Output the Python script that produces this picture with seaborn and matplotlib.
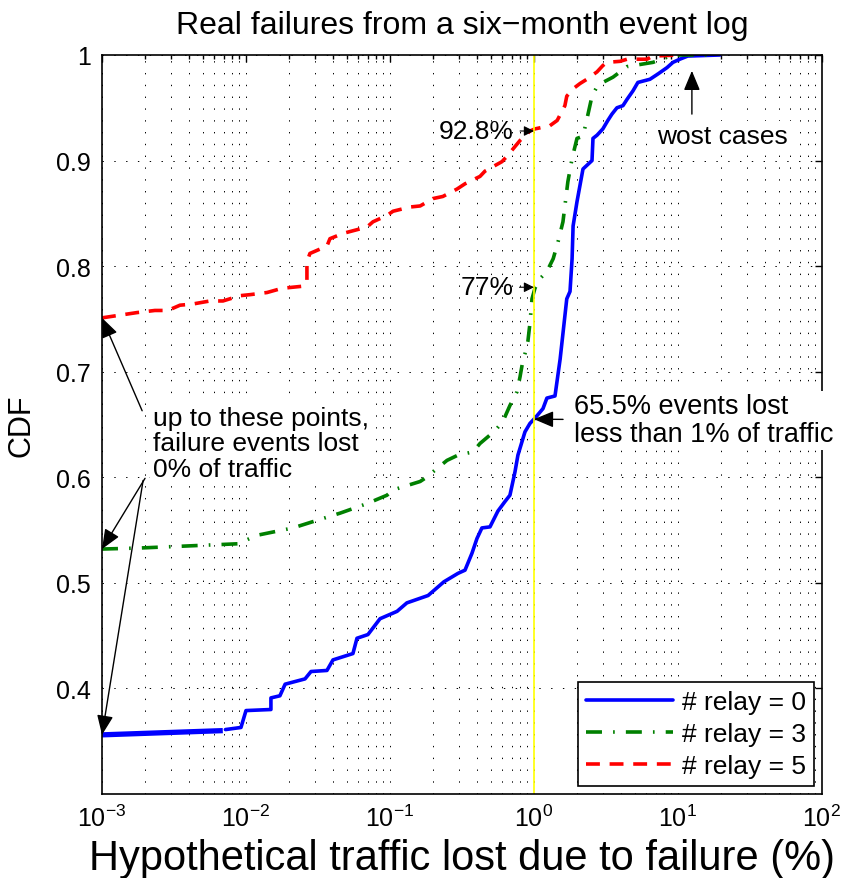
import matplotlib
matplotlib.use("Agg")
import matplotlib.pyplot as plt
import seaborn as sns
from matplotlib.ticker import LogLocator, NullFormatter

# values: traffic lost (%) vs CDF
relay0_zero_x = [0.001, 0.0069]
relay0_zero_cdf = [0.356, 0.360]
relay0_x = [0.0072, 0.00923, 0.01, 0.0149, 0.0149, 0.0172, 0.0187, 0.0257, 0.0283, 0.0365,
            0.0402, 0.0553, 0.059, 0.0703, 0.0853, 0.112, 0.131, 0.184, 0.237, 0.297,
            0.332, 0.371, 0.402, 0.435, 0.495, 0.562, 0.629, 0.681, 0.738, 0.774,
            0.866, 0.938, 1.016, 1.155, 1.23, 1.40, 1.52, 1.69, 1.78, 1.84,
            1.87, 1.99, 2.19, 2.53, 2.57, 2.74, 3.01, 3.26, 3.48, 3.77,
            4.15, 4.43, 4.87, 5.27, 6.39, 7.26, 8.39, 9.23, 10.3, 11.7, 19.6]
relay0_cdf = [0.361, 0.363, 0.379, 0.380, 0.391, 0.393, 0.404, 0.409, 0.416, 0.417,
              0.427, 0.433, 0.4475, 0.451, 0.466, 0.473, 0.481, 0.488, 0.501, 0.509,
              0.512, 0.528, 0.542, 0.552, 0.553, 0.568, 0.577, 0.583, 0.605, 0.621,
              0.643, 0.651, 0.656, 0.665, 0.675, 0.677, 0.712, 0.769, 0.776, 0.807,
              0.838, 0.861, 0.892, 0.900, 0.921, 0.924, 0.930, 0.938, 0.944, 0.950,
              0.952, 0.958, 0.966, 0.974, 0.977, 0.982, 0.988, 0.993, 0.996, 0.999, 1.0]

relay3_x = [0.001, 0.00184, 0.00332, 0.0088, 0.0119, 0.0212, 0.0292, 0.045, 0.0692, 0.0953,
            0.105, 0.162, 0.175, 0.249, 0.297, 0.377, 0.422, 0.536, 0.609, 0.681,
            0.762, 0.800, 0.839, 0.866, 0.908, 0.938, 0.969, 1.016, 1.10, 1.23,
            1.36, 1.47, 1.59, 1.72, 1.84, 1.99, 2.19, 2.33, 2.53, 2.74,
            3.01, 3.54, 3.96, 4.43, 5.45, 6.70, 7.74, 8.79, 10.3, 18.1]
relay3_cdf = [0.532, 0.533, 0.5345, 0.537, 0.545, 0.552, 0.558, 0.566, 0.575, 0.583,
              0.588, 0.596, 0.599, 0.616, 0.621, 0.624, 0.632, 0.644, 0.653, 0.668,
              0.681, 0.695, 0.711, 0.717, 0.729, 0.746, 0.769, 0.779, 0.788, 0.795,
              0.807, 0.823, 0.842, 0.880, 0.902, 0.921, 0.923, 0.939, 0.961, 0.970,
              0.974, 0.979, 0.984, 0.989, 0.991, 0.993, 0.996, 0.999, 1.0, 1.0]

relay5_x = [0.001, 0.00175, 0.00233, 0.00287, 0.00348, 0.00422, 0.00562, 0.00692, 0.00909, 0.0107,
            0.0140, 0.0178, 0.0249, 0.0265, 0.0265, 0.0278, 0.0365, 0.0383, 0.0472, 0.0692,
            0.0762, 0.0953, 0.105, 0.138, 0.162, 0.199, 0.233, 0.292, 0.332, 0.422,
            0.457, 0.600, 0.649, 0.800, 0.938, 1.016, 1.29, 1.45, 1.64, 1.69,
            1.87, 2.09, 2.33, 2.74, 3.01, 3.21, 3.96, 4.43, 6.09, 6.70, 10.3]
relay5_cdf = [0.751, 0.756, 0.758, 0.758, 0.763, 0.764, 0.767, 0.767, 0.772, 0.773,
              0.775, 0.779, 0.781, 0.785, 0.804, 0.812, 0.819, 0.826, 0.831, 0.837,
              0.842, 0.848, 0.852, 0.856, 0.857, 0.864, 0.866, 0.873, 0.878, 0.885,
              0.890, 0.899, 0.904, 0.919, 0.928, 0.930, 0.933, 0.938, 0.952, 0.961,
              0.968, 0.973, 0.977, 0.984, 0.990, 0.993, 0.994, 0.996, 0.996, 0.999, 1.0]

series_labels = ["# relay = 0", "# relay = 3", "# relay = 5"]
yticks = [0.4, 0.5, 0.6, 0.7, 0.8, 0.9, 1.0]
ytick_labels = ["0.4", "0.5", "0.6", "0.7", "0.8", "0.9", "1"]
xticks = [1e-3, 1e-2, 1e-1, 1e0, 1e1, 1e2]

sns.set_style("white")
plt.rcParams["font.family"] = ["Liberation Sans", "DejaVu Sans"]
plt.rcParams["mathtext.fontset"] = "custom"
plt.rcParams["mathtext.rm"] = "Liberation Sans"
plt.rcParams["lines.scale_dashes"] = False
for key in ["text.color", "axes.labelcolor", "xtick.color", "ytick.color", "axes.edgecolor"]:
    plt.rcParams[key] = "black"

fig = plt.figure(figsize=(8.43, 8.79), dpi=100)
ax = fig.add_axes([0.121, 0.0956, 0.854, 0.8407])

lw = 2.6
sns.lineplot(x=relay0_zero_x, y=relay0_zero_cdf, ax=ax, color="#0000ff", lw=3.8,
             estimator=None, sort=False, solid_capstyle="butt")
sns.lineplot(x=relay0_x, y=relay0_cdf, ax=ax, color="#0000ff", lw=lw,
             estimator=None, sort=False, label=series_labels[0])
sns.lineplot(x=relay3_x, y=relay3_cdf, ax=ax, color="#008000", lw=lw,
             estimator=None, sort=False, label=series_labels[1],
             linestyle=(0, (11.5, 8, 1.2, 8)))
sns.lineplot(x=relay5_x, y=relay5_cdf, ax=ax, color="#ff0000", lw=lw,
             estimator=None, sort=False, label=series_labels[2],
             linestyle=(0, (10, 7)))
ax.axvline(1.0, color="#ffff00", lw=1.2, zorder=2.4)

ax.set_xscale("log")
ax.set_xlim(1e-3, 1e2)
ax.set_ylim(0.3, 1.0)
ax.set_xticks(xticks)
ax.xaxis.set_minor_locator(LogLocator(base=10, subs=range(2, 10), numticks=20))
ax.xaxis.set_minor_formatter(NullFormatter())
ax.set_yticks(yticks, ytick_labels)

dots = (0, (1, 7.5))
ax.grid(which="major", axis="both", color="k", lw=0.7, linestyle=dots)
ax.grid(which="minor", axis="x", color="k", lw=0.7, linestyle=dots)
ax.tick_params(which="both", direction="in", top=True, right=True, labelsize=18, width=1)
ax.tick_params(which="major", length=5)
ax.tick_params(which="minor", length=3)
ax.tick_params(axis="x", pad=8)
ax.tick_params(axis="y", pad=8)
for sp in ax.spines.values():
    sp.set_linewidth(1.2)

ax.set_title("Real failures from a six\u2212month event log", fontsize=23, pad=16)
ax.set_xlabel("Hypothetical traffic lost due to failure (%)", fontsize=30, labelpad=5)
ax.set_ylabel("CDF", fontsize=22, labelpad=14)

leg = ax.legend(loc="lower right", fontsize=19, frameon=True, fancybox=False,
                handlelength=3.3, handletextpad=0.35, labelspacing=0.3,
                borderpad=0.3, borderaxespad=0.3)
leg.get_frame().set_edgecolor("k")
leg.get_frame().set_linewidth(1.2)
leg.get_frame().set_alpha(1)

fs = 19
big_head = dict(arrowstyle="-|>,head_length=0.6,head_width=0.25", color="k", lw=1,
                mutation_scale=20, shrinkA=0, shrinkB=0)
white = dict(facecolor="white", edgecolor="none", pad=2)

ax.text(0.00226, 0.632, "up to these points,\nfailure events lost\n0% of traffic",
        fontsize=fs, ha="left", va="center", linespacing=1.1, bbox=white, zorder=4)
ax.annotate("", xy=(0.001, 0.751), xytext=(0.0019, 0.663), arrowprops=big_head)
ax.annotate("", xy=(0.001, 0.532), xytext=(0.00199, 0.599), arrowprops=big_head)
ax.annotate("", xy=(0.001, 0.356), xytext=(0.00193, 0.597), arrowprops=big_head)

ax.text(20.5, 0.923, "wost cases", fontsize=fs, ha="center", va="center", bbox=white, zorder=4)
ax.annotate("", xy=(12.5, 0.985), xytext=(12.5, 0.944), arrowprops=big_head)

ax.annotate("65.5% events lost\nless than 1% of traffic", xy=(1.0, 0.655),
            xytext=(1.9, 0.654), fontsize=19.5, ha="left", va="center", linespacing=1.1,
            bbox=white, zorder=4,
            arrowprops=dict(arrowstyle="-|>,head_length=0.6,head_width=0.25", color="k",
                            lw=1, mutation_scale=20, shrinkA=6, shrinkB=0))

small_head = dict(arrowstyle="-|>,head_length=0.5,head_width=0.25", color="k", lw=0.8,
                  mutation_scale=12, shrinkA=2, shrinkB=0)
ax.annotate("92.8%", xy=(1.0, 0.928), xytext=(0.727, 0.928), fontsize=fs,
            ha="right", va="center", arrowprops=small_head)
ax.annotate("77%", xy=(1.0, 0.78), xytext=(0.72, 0.78), fontsize=fs,
            ha="right", va="center", arrowprops=small_head)

fig.savefig("out.png", dpi=100, facecolor="white")
